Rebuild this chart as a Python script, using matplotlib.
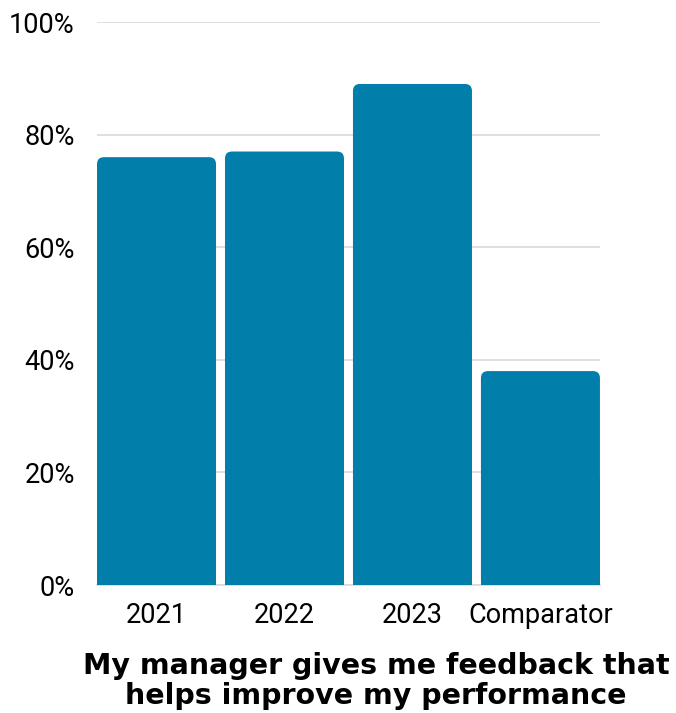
import matplotlib

matplotlib.use("Agg")
import matplotlib.pyplot as plt
from matplotlib.patches import FancyBboxPatch
from matplotlib.ticker import PercentFormatter

categories = ["2021", "2022", "2023", "Comparator"]
values = [76, 77, 89, 38]
title = "My manager gives me feedback that\nhelps improve my performance"

BAR_COLOR = "#027EAB"
GRID_COLOR = "#D9D9D9"
BAR_WIDTH = 0.93

fig = plt.figure(figsize=(6.76, 7.13), dpi=100)
ax = fig.add_axes([0.1435, 0.1795, 0.744, 0.7896])

ax.set_xlim(-BAR_WIDTH / 2, len(categories) - 1 + BAR_WIDTH / 2)
ax.set_ylim(0, 100)

bars = ax.bar(range(len(categories)), values, width=BAR_WIDTH, color="none")

# rounded top corners: radius in pixels, converted to data units per axis
radius_px = 7
fig.canvas.draw()
px_per_x = ax.transData.transform((1, 0))[0] - ax.transData.transform((0, 0))[0]
px_per_y = ax.transData.transform((0, 1))[1] - ax.transData.transform((0, 0))[1]
rx = radius_px / px_per_x
ry = radius_px / px_per_y
for bar in bars:
    x0, w, h = bar.get_x(), bar.get_width(), bar.get_height()
    ax.add_patch(FancyBboxPatch((x0 + rx, ry), w - 2 * rx, h - 2 * ry,
                                boxstyle=f"round,pad={rx},rounding_size={rx}",
                                mutation_aspect=ry / rx, facecolor=BAR_COLOR,
                                edgecolor="none", zorder=3))
    # square off the bottom corners
    ax.add_patch(plt.Rectangle((x0, 0), w, h / 2, facecolor=BAR_COLOR,
                               edgecolor="none", zorder=3))

ax.set_yticks(range(0, 101, 20))
ax.yaxis.set_major_formatter(PercentFormatter(decimals=0))
ax.grid(axis="y", color=GRID_COLOR, linewidth=1.2, zorder=0)
ax.set_axisbelow(True)
for side in ["top", "right", "left"]:
    ax.spines[side].set_visible(False)
ax.spines["bottom"].set_color(GRID_COLOR)
ax.spines["bottom"].set_linewidth(1.2)

ax.set_xticks(range(len(categories)))
ax.set_xticklabels(categories)
ax.tick_params(axis="both", length=0, labelsize=19.5, labelcolor="black")
ax.tick_params(axis="x", pad=12)
ax.tick_params(axis="y", pad=16)
for lbl in ax.get_xticklabels() + ax.get_yticklabels():
    lbl.set_family("Roboto")

fig.text(0.556, 0.004, title, ha="center", va="bottom", fontsize=20.5,
         fontweight="bold", family="DejaVu Sans", linespacing=1.12)

fig.savefig("out.png", dpi=100)
